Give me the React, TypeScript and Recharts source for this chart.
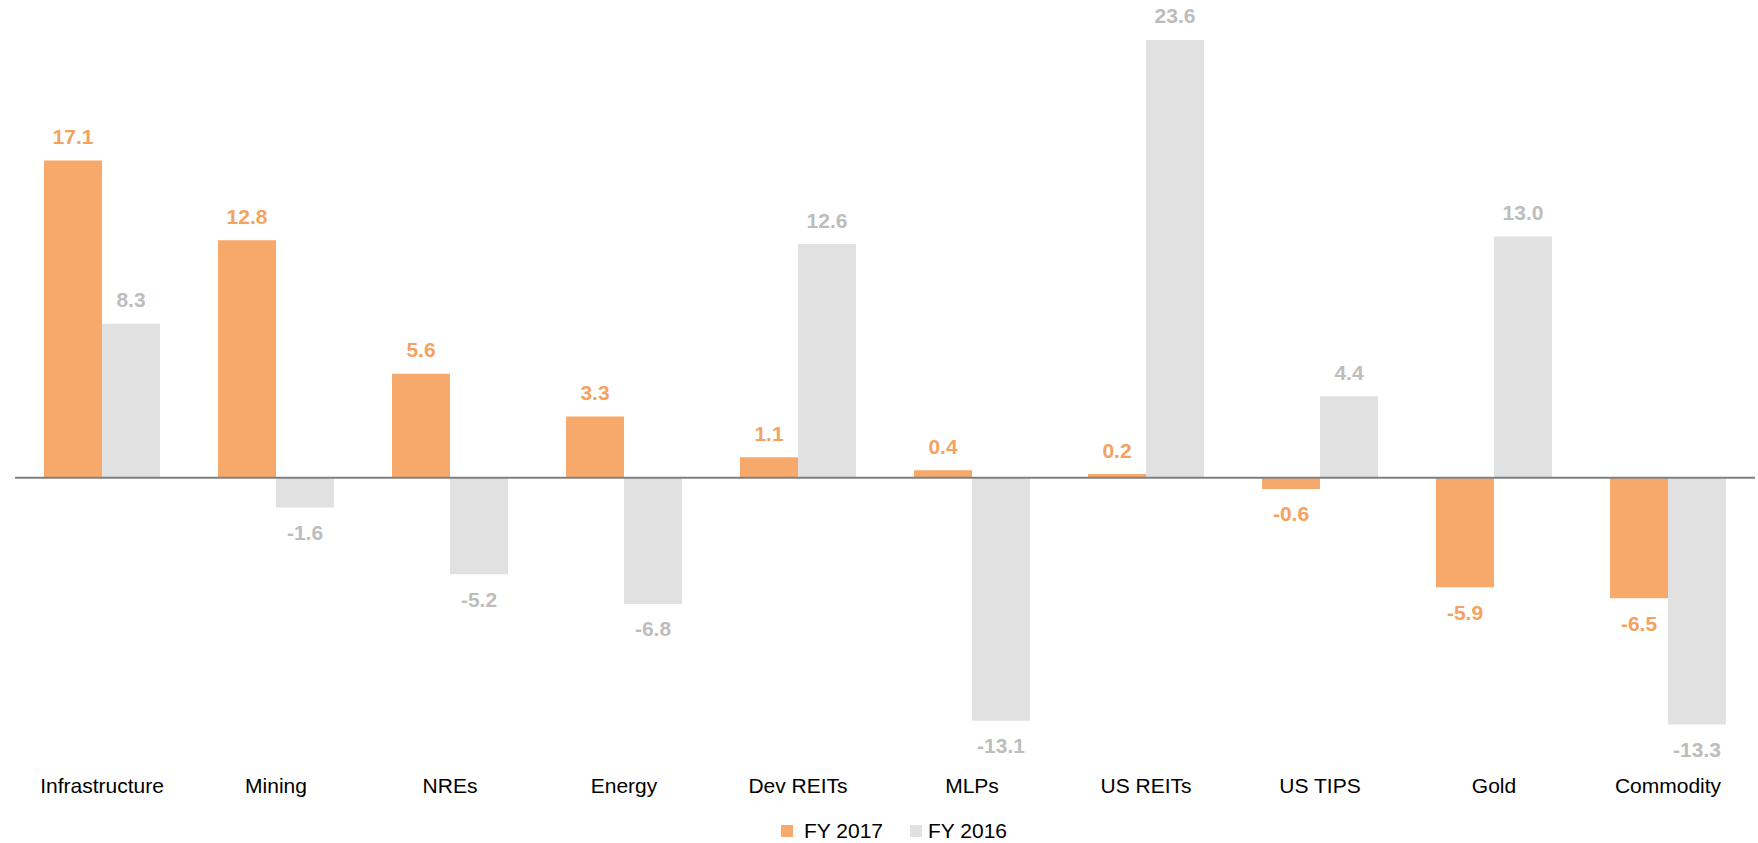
import React from "react";
import { BarChart, Bar, XAxis, YAxis, ReferenceLine, LabelList, Legend } from "recharts";

const categories = ["Infrastructure", "Mining", "NREs", "Energy", "Dev REITs", "MLPs", "US REITs", "US TIPS", "Gold", "Commodity"];
const fy2017 = [17.1, 12.8, 5.6, 3.3, 1.1, 0.4, 0.2, -0.6, -5.9, -6.5];
const fy2016 = [8.3, -1.6, -5.2, -6.8, 12.6, -13.1, 23.6, 4.4, 13.0, -13.3];
const seriesNames = ["FY 2017", "FY 2016"];

const ORANGE = "#F6A96A";
const ORANGE_TEXT = "#F4A261";
const GREY = "#E0E1E0";
const GREY_TEXT = "#BDBDBD";
const FONT = "'Liberation Sans', Arial, sans-serif";

const data = categories.map((name, i) => ({ name, fy2017: fy2017[i], fy2016: fy2016[i] }));

const makeLabel = (color: string) => (props: any) => {
  const { x, y, width, height, value } = props;
  const top = Math.min(y, y + height);
  const bottom = Math.max(y, y + height);
  const cy = value >= 0 ? top - 24 : bottom + 25;
  return (
    <text
      x={x + width / 2}
      y={cy}
      textAnchor="middle"
      dominantBaseline="central"
      fill={color}
      fontFamily={FONT}
      fontSize={21}
      fontWeight="bold"
    >
      {Number(value).toFixed(1)}
    </text>
  );
};

const CategoryTick = (props: any) => {
  const { x, y, payload } = props;
  return (
    <text x={x} y={y + 29} textAnchor="middle" dominantBaseline="central" fill="#000" fontFamily={FONT} fontSize={21}>
      {payload.value}
    </text>
  );
};

const LegendContent = () => (
  <div
    style={{
      height: 30,
      width: 1758,
      display: "flex",
      justifyContent: "center",
      alignItems: "center",
      paddingLeft: 30,
      paddingTop: 6,
      boxSizing: "border-box",
      fontFamily: FONT,
      fontSize: 21,
      color: "#000",
    }}
  >
    <span style={{ display: "inline-block", width: 12, height: 12, background: ORANGE, marginRight: 11 }} />
    <span style={{ marginRight: 27 }}>{seriesNames[0]}</span>
    <span style={{ display: "inline-block", width: 12, height: 12, background: GREY, marginRight: 6 }} />
    <span>{seriesNames[1]}</span>
  </div>
);

export default function App() {
  return (
    <div style={{ position: "absolute", left: 0, top: 0, width: 1758, height: 843, background: "#fff" }}>
      <BarChart
        width={1758}
        height={843}
        data={data}
        margin={{ top: 14, right: 3, bottom: 0, left: 15 }}
        barGap={0}
      >
        <XAxis
          dataKey="name"
          axisLine={false}
          tickLine={false}
          tickSize={0}
          tickMargin={0}
          height={57}
          interval={0}
          tick={<CategoryTick />}
        />
        <YAxis hide domain={[-15, 25]} allowDataOverflow />
        <Legend
          verticalAlign="bottom"
          content={<LegendContent />}
          wrapperStyle={{ left: 0, width: 1758, height: 30 }}
        />
        <Bar dataKey="fy2017" name={seriesNames[0]} fill={ORANGE} barSize={58} isAnimationActive={false}>
          <LabelList dataKey="fy2017" content={makeLabel(ORANGE_TEXT)} />
        </Bar>
        <Bar dataKey="fy2016" name={seriesNames[1]} fill={GREY} barSize={58} isAnimationActive={false}>
          <LabelList dataKey="fy2016" content={makeLabel(GREY_TEXT)} />
        </Bar>
        <ReferenceLine y={0} stroke="#808080" strokeWidth={2} />
      </BarChart>
    </div>
  );
}
